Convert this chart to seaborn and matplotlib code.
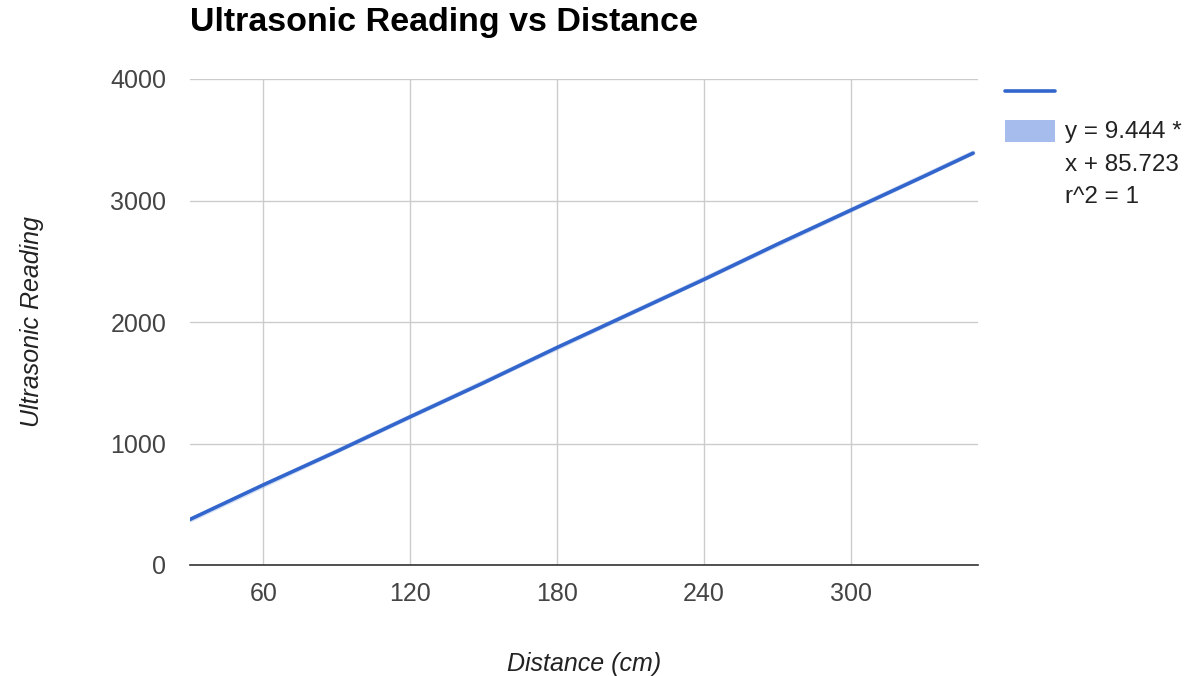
import numpy as np
import pandas as pd
import matplotlib
matplotlib.use('agg')
import matplotlib.pyplot as plt
import seaborn as sns
from matplotlib.lines import Line2D
from matplotlib.patches import Rectangle

# readings taken off the chart
distance = [30, 60, 90, 120, 150, 180, 210, 240, 270, 300, 330, 350]
reading = [375, 660, 935, 1220, 1500, 1790, 2070, 2350, 2640, 2920, 3200, 3390]
slope = 9.444
intercept = 85.723
trend_label = "y = 9.444 *\nx + 85.723\nr^2 = 1"

sns.set_style("whitegrid")
plt.rcParams['font.family'] = ['Liberation Sans', 'DejaVu Sans']

df = pd.DataFrame({"Distance (cm)": distance, "Ultrasonic Reading": reading})
line_col = "#3366cc"

W, H = 1200, 676
fig = plt.figure(figsize=(12, 6.76), dpi=100)
ax = fig.add_axes([190/W, 1-565/H, (978-190)/W, (565-79)/H])

# trendline sits underneath the data line
xs = np.array([distance[0], distance[-1]])
ax.plot(xs, slope*xs + intercept, color=line_col, alpha=0.2, lw=3.5, zorder=2)
sns.lineplot(data=df, x="Distance (cm)", y="Ultrasonic Reading", ax=ax,
             color=line_col, lw=2.6, zorder=3)

ax.set_xlim(30, 352)
ax.set_ylim(0, 4000)
ax.set_xticks([60, 120, 180, 240, 300])
ax.set_yticks([0, 1000, 2000, 3000, 4000])
ax.grid(True, color="#cccccc", lw=1)
for s in ["left", "right", "top"]:
    ax.spines[s].set_visible(False)
ax.spines["bottom"].set_color("#333333")
ax.spines["bottom"].set_linewidth(1.2)
ax.tick_params(length=0, labelsize=18, colors="#444444")
ax.tick_params(axis="x", pad=12)
ax.tick_params(axis="y", pad=17)

ax.set_xlabel("Distance (cm)", fontsize=18, style="italic", color="#222222", labelpad=33)
ax.set_ylabel("Ultrasonic Reading", fontsize=18, style="italic", color="#222222", labelpad=48)
fig.text(190/W, 1-22/H, "Ultrasonic Reading vs Distance", fontsize=24.5,
         fontweight="bold", va="center", ha="left", color="#000000")

# legend, drawn to the right of the plot
fig.add_artist(Line2D([1005/W, 1055/W], [1-91/H, 1-91/H], color=line_col, lw=2.6))
fig.add_artist(Rectangle((1005/W, 1-142/H), 50/W, 22/H, facecolor="#a6bcec",
                         edgecolor="none", transform=fig.transFigure))
fig.text(1065/W, 1-121/H, trend_label, fontsize=17.5, va="top", ha="left",
         color="#222222", linespacing=1.62)

plt.savefig("out.png", dpi=100)
plt.close()
